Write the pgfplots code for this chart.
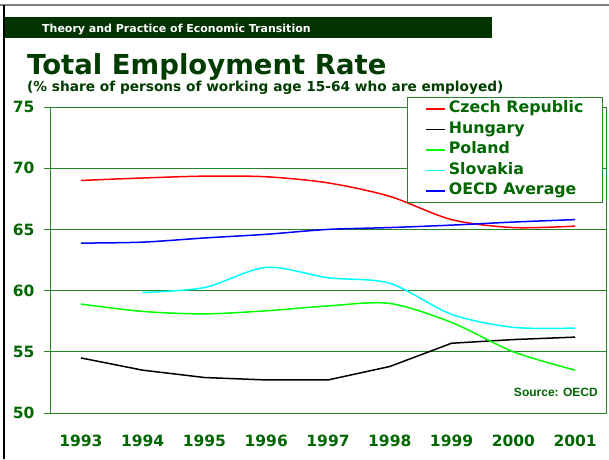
\documentclass[border=0pt]{standalone}
\usepackage{pgfplots}
\pgfplotsset{compat=1.18}
\usepackage{fontspec}
\setmainfont{DejaVu Sans}
\newfontfamily\arialfont{Liberation Sans}
\definecolor{bannergreen}{RGB}{0,51,0}
\definecolor{titlegreen}{RGB}{0,60,0}
\definecolor{labelgreen}{RGB}{0,102,0}
\definecolor{axisgreen}{RGB}{40,130,40}
\definecolor{czred}{RGB}{255,0,0}
\definecolor{plgreen}{RGB}{0,255,0}
\definecolor{skcyan}{RGB}{0,255,255}
\definecolor{oecdblue}{RGB}{0,0,255}
\begin{document}
\begin{tikzpicture}[x=1pt,y=1pt]
\begin{axis}[
  scale only axis, width=556pt, height=306pt,
  xmin=-0.5, xmax=8.5, ymin=50, ymax=75,
  xtick={0,...,8},
  xticklabels={1993,1994,1995,1996,1997,1998,1999,2000,2001},
  minor xtick={-0.5,0.5,...,8.5},
  ytick={50,55,...,75},
  tick align=outside, tick pos=left,
  major tick length=6pt, minor tick length=5pt,
  xtick style={draw=none},
  minor tick style={axisgreen, line width=0.8pt},
  ytick style={axisgreen, line width=0.8pt},
  ymajorgrids,
  grid style={axisgreen, line width=0.8pt},
  axis line style={axisgreen, line width=0.8pt},
  ticklabel style={text=labelgreen, font=\bfseries\fontsize{15.5}{18}\selectfont},
  /pgf/number format/assume math mode=true,
  xticklabel style={yshift=-12pt},
  yticklabel style={xshift=-6pt},
  legend style={at={(0.642,1.033)}, anchor=north west, draw=axisgreen, line width=0.8pt, fill=white,
    inner xsep=18pt, inner ysep=3pt, row sep=3.5pt, column sep=2pt,
    font=\bfseries\fontsize{15.8}{19}\selectfont, text=labelgreen,
    nodes={inner sep=1pt, text height=11.5pt, text depth=3.5pt}},
  legend cell align=left,
  legend image code/.code={\draw[#1, line width=1.5pt] (0pt,0pt) -- (19pt,0pt);},
  every axis plot/.append style={line width=1.5pt},
]
\coordinate (O) at (rel axis cs:0,0);
\addplot[czred, smooth, tension=0.5] coordinates {
  (0,69.0) (1,69.2) (2,69.35) (3,69.3) (4,68.8) (5,67.7) (6,65.8) (7,65.15) (8,65.27)
};
\addlegendentry{Czech Republic}
\addplot[black] coordinates {
  (0,54.5) (1,53.5) (2,52.9) (3,52.7) (4,52.7) (5,53.8) (6,55.7) (7,56.0) (8,56.2)
};
\addlegendentry{Hungary}
\addplot[plgreen, smooth, tension=0.5] coordinates {
  (0,58.9) (1,58.3) (2,58.1) (3,58.35) (4,58.75) (5,58.95) (6,57.4) (7,55.0) (8,53.5)
};
\addlegendentry{Poland}
\addplot[skcyan, smooth, tension=0.5] coordinates {
  (1,59.85) (2,60.25) (3,61.9) (4,61.05) (5,60.6) (6,58.06) (7,57.0) (8,56.94)
};
\addlegendentry{Slovakia}
\addplot[oecdblue, smooth, tension=0.5] coordinates {
  (0,63.88) (1,63.96) (2,64.3) (3,64.6) (4,65.0) (5,65.15) (6,65.35) (7,65.6) (8,65.8)
};
\addlegendentry{OECD Average}
\node[anchor=base east, inner sep=0pt, text=labelgreen, font=\arialfont\bfseries\fontsize{12}{14}\selectfont]
  at (rel axis cs:0.9856,0.0533) {Source: OECD};
\end{axis}
% slide decoration, placed relative to the plot area corner (50,46)
\begin{scope}[shift={(O)}, xshift=-50pt, yshift=-46pt]
\path[use as bounding box] (0,0) rectangle (609,459);
\draw[gray, line width=1.5pt] (0,454) -- (609,454);
\draw[black, line width=2pt] (4.5,0) -- (4.5,454);
\fill[bannergreen] (5,421) rectangle (492,442);
\node[anchor=base west, inner sep=0pt, text=white, font=\bfseries\fontsize{11}{13}\selectfont]
  at (42,427) {Theory and Practice of Economic Transition};
\node[anchor=base west, inner sep=0pt, text=titlegreen, font=\bfseries\fontsize{27.5}{32}\selectfont]
  at (27,385) {Total Employment Rate};
\node[anchor=base west, inner sep=0pt, text=titlegreen, font=\bfseries\fontsize{13.7}{16}\selectfont]
  at (27,368) {(\% share of persons of working age 15-64 who are employed)};
\end{scope}
\end{tikzpicture}
\end{document}
